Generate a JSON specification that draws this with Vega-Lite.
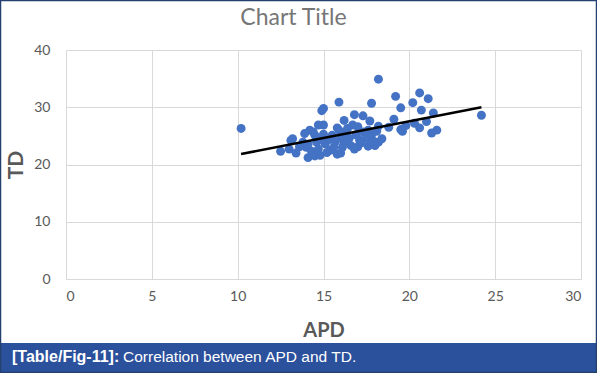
{
  "$schema": "https://vega.github.io/schema/vega-lite/v6.json",
  "width": 515,
  "height": 229,
  "autosize": {"type": "none"},
  "padding": {"left": 66, "top": 50, "right": 16, "bottom": 94},
  "background": "white",
  "title": {"text": "Chart Title", "font": "Lato", "fontSize": 23, "fontWeight": "normal", "color": "#767676", "offset": -30, "dx": -30, "anchor": "middle", "frame": "group"},
  "config": {
    "view": {"stroke": null},
    "axis": {"domain": false, "ticks": false, "grid": true, "gridColor": "#d9d9d9", "gridWidth": 1, "labelFont": "Lato", "labelFontSize": 14, "labelColor": "#595959", "titleFont": "Lato", "titleFontSize": 20, "titleFontWeight": "bold", "titleColor": "#595959"}
  },
  "datasets": {
    "pts": [
      {"APD": 10.2, "TD": 26.3}, {"APD": 24.2, "TD": 28.6}, {"APD": 18.2, "TD": 34.9}, {"APD": 20.6, "TD": 32.5},
      {"APD": 21.1, "TD": 31.5}, {"APD": 19.2, "TD": 31.9}, {"APD": 20.2, "TD": 30.8}, {"APD": 17.8, "TD": 30.7},
      {"APD": 15.9, "TD": 30.9}, {"APD": 14.9, "TD": 29.4}, {"APD": 15.0, "TD": 29.8}, {"APD": 19.5, "TD": 29.9},
      {"APD": 20.7, "TD": 29.5}, {"APD": 21.4, "TD": 29.0}, {"APD": 16.8, "TD": 28.7}, {"APD": 17.3, "TD": 28.5},
      {"APD": 16.2, "TD": 27.7}, {"APD": 17.7, "TD": 27.6}, {"APD": 19.1, "TD": 27.9}, {"APD": 21.0, "TD": 27.5},
      {"APD": 20.3, "TD": 27.2}, {"APD": 18.2, "TD": 26.7}, {"APD": 16.7, "TD": 26.9}, {"APD": 15.0, "TD": 26.9},
      {"APD": 20.6, "TD": 26.4}, {"APD": 19.6, "TD": 25.8}, {"APD": 21.6, "TD": 26.0}, {"APD": 21.3, "TD": 25.5},
      {"APD": 19.5, "TD": 26.1}, {"APD": 14.4, "TD": 25.7}, {"APD": 14.2, "TD": 26.0}, {"APD": 14.5, "TD": 25.1},
      {"APD": 15.8, "TD": 26.4}, {"APD": 17.0, "TD": 26.6}, {"APD": 13.1, "TD": 24.2}, {"APD": 13.8, "TD": 23.9},
      {"APD": 14.6, "TD": 23.9}, {"APD": 12.5, "TD": 22.3}, {"APD": 13.0, "TD": 22.7}, {"APD": 14.1, "TD": 21.2},
      {"APD": 14.8, "TD": 21.6}, {"APD": 15.8, "TD": 21.8}, {"APD": 17.0, "TD": 23.1}, {"APD": 17.6, "TD": 23.2},
      {"APD": 18.0, "TD": 23.3}, {"APD": 18.2, "TD": 23.9}, {"APD": 16.0, "TD": 22.0}, {"APD": 13.2, "TD": 24.5},
      {"APD": 14.0, "TD": 23.0}, {"APD": 14.3, "TD": 22.3}, {"APD": 14.7, "TD": 22.7}, {"APD": 15.1, "TD": 23.6},
      {"APD": 15.3, "TD": 24.3}, {"APD": 15.5, "TD": 25.1}, {"APD": 15.7, "TD": 24.0}, {"APD": 16.0, "TD": 24.8},
      {"APD": 16.2, "TD": 23.8}, {"APD": 16.3, "TD": 25.6}, {"APD": 16.5, "TD": 24.6}, {"APD": 16.6, "TD": 23.3},
      {"APD": 16.9, "TD": 25.2}, {"APD": 17.1, "TD": 24.3}, {"APD": 17.3, "TD": 25.7}, {"APD": 17.5, "TD": 24.6},
      {"APD": 17.8, "TD": 25.2}, {"APD": 17.9, "TD": 24.1}, {"APD": 18.1, "TD": 25.8}, {"APD": 16.4, "TD": 26.3},
      {"APD": 15.4, "TD": 22.5}, {"APD": 15.2, "TD": 22.1}, {"APD": 14.9, "TD": 24.4}, {"APD": 13.6, "TD": 23.1},
      {"APD": 13.9, "TD": 25.4}, {"APD": 14.1, "TD": 23.5}, {"APD": 15.6, "TD": 23.0}, {"APD": 16.8, "TD": 22.7},
      {"APD": 17.2, "TD": 23.8}, {"APD": 18.4, "TD": 24.5}, {"APD": 14.5, "TD": 21.5}, {"APD": 15.9, "TD": 26.0},
      {"APD": 16.1, "TD": 23.0}, {"APD": 17.6, "TD": 26.0}, {"APD": 15.0, "TD": 25.3}, {"APD": 13.4, "TD": 22.0},
      {"APD": 18.8, "TD": 26.5}, {"APD": 19.8, "TD": 26.8}, {"APD": 14.7, "TD": 26.9}
    ],
    "cap1": [{"t": "[Table/Fig-11]:"}],
    "cap2": [{"t": "Correlation between APD and TD."}],
    "one": [{"k": 1}]
  },
  "layer": [
    {
      "data": {"name": "pts"},
      "mark": {"type": "circle", "size": 80, "opacity": 1, "color": "#4472c4"},
      "encoding": {
        "x": {"field": "APD", "type": "quantitative", "scale": {"domain": [0, 30], "nice": false, "zero": false}, "axis": {"values": [0, 5, 10, 15, 20, 25, 30], "labelPadding": 10, "title": "APD", "titlePadding": 17}},
        "y": {"field": "TD", "type": "quantitative", "scale": {"domain": [0, 40], "nice": false}, "axis": {"values": [0, 5, 10, 15, 20, 25, 30, 35, 40], "labelPadding": 16, "title": "TD", "titlePadding": 7, "titleFontSize": 21}}
      }
    },
    {
      "data": {"name": "pts"},
      "transform": [{"regression": "TD", "on": "APD", "extent": [10.2, 24.2]}],
      "mark": {"type": "line", "color": "#000000", "strokeWidth": 2.5},
      "encoding": {
        "x": {"field": "APD", "type": "quantitative"},
        "y": {"field": "TD", "type": "quantitative"}
      }
    },
    {
      "data": {"name": "one"},
      "mark": {"type": "rect", "color": "#2b509c"},
      "encoding": {"x": {"value": -66}, "x2": {"value": 531}, "y": {"value": 293}, "y2": {"value": 323}}
    },
    {
      "data": {"name": "one"},
      "mark": {"type": "rect", "fill": null, "filled": false, "stroke": "#23406e", "strokeWidth": 1.5},
      "encoding": {"x": {"value": -65.5}, "x2": {"value": 530.5}, "y": {"value": -49.5}, "y2": {"value": 322.5}}
    },
    {
      "data": {"name": "cap1"},
      "mark": {"type": "text", "align": "left", "baseline": "middle", "font": "Liberation Sans", "fontSize": 16, "fontWeight": "bold", "color": "white"},
      "encoding": {"text": {"field": "t"}, "x": {"value": -54}, "y": {"value": 307}}
    },
    {
      "data": {"name": "cap2"},
      "mark": {"type": "text", "align": "left", "baseline": "middle", "font": "Liberation Sans", "fontSize": 15.5, "fontWeight": "normal", "color": "white"},
      "encoding": {"text": {"field": "t"}, "x": {"value": 57}, "y": {"value": 307}}
    }
  ]
}
